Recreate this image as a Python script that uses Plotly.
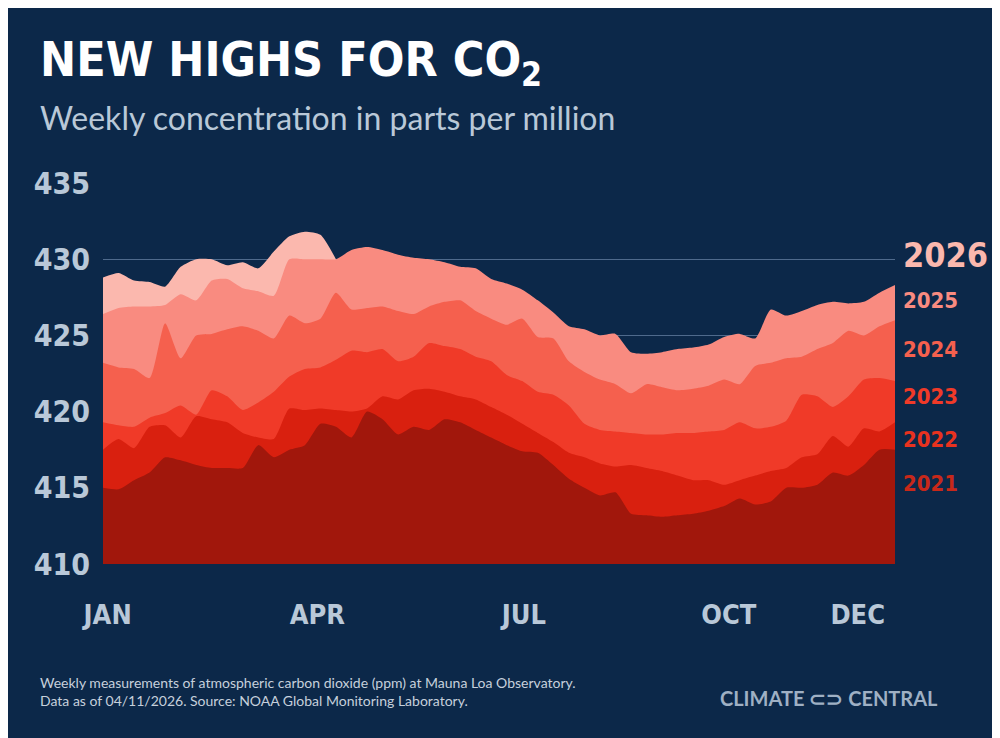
import plotly.graph_objects as go

weeks = list(range(1, 53))
y2021 = [415, 414.9, 415.5, 416, 417, 416.8, 416.5, 416.3, 416.3, 416.3, 417.8, 417, 417.5, 417.8, 419.2, 419, 418.3, 420,
         419.5, 418.5, 419, 418.8, 419.5, 419.3, 418.8, 418.3, 417.8, 417.4, 417.3, 416.5, 415.6, 415, 414.5, 414.7,
         413.3, 413.2, 413.1, 413.2, 413.3, 413.5, 413.8, 414.3, 413.9, 414.1, 415, 415, 415.2, 416, 415.8, 416.5, 417.5, 417.5]
y2022 = [417.5, 418.2, 417.6, 419, 419.1, 418.3, 419.7, 419.5, 419.3, 418.6, 418.3, 418.2, 420.2, 420.1, 420.2, 420.1,
         420, 420.2, 421, 420.8, 421.4, 421.5, 421.3, 421, 420.8, 420.3, 419.8, 419.2, 418.6, 418, 417.3, 417, 416.6, 416.4,
         416.5, 416.3, 416.1, 415.8, 415.5, 415.5, 415.2, 415.5, 415.8, 416.1, 416.3, 417, 417.2, 418.4, 417.7, 418.9, 418.7, 419.3]
y2023 = [419.3, 419.1, 419.0, 419.6, 419.9, 420.4, 419.8, 421.4, 421.0, 420.1, 420.6, 421.3, 422.3, 422.8, 422.9, 423.4,
         424.0, 423.9, 424.1, 423.3, 423.6, 424.5, 424.3, 424.1, 423.6, 423.3, 422.4, 422.0, 421.3, 421.1, 420.4, 419.2,
         418.8, 418.7, 418.6, 418.5, 418.5, 418.6, 418.6, 418.7, 418.8, 419.3, 418.9, 419.0, 419.4, 421.1, 421.0, 420.3,
         421.0, 422.1, 422.2, 422.0]
y2024 = [423.2, 422.9, 422.8, 422.2, 425.8, 423.5, 425.0, 425.1, 425.4, 425.6, 425.3, 424.8, 426.3, 425.8, 426.1, 427.8,
         426.7, 426.8, 426.9, 426.6, 426.4, 426.9, 427.2, 427.3, 426.6, 426.1, 425.7, 426.1, 424.9, 424.8, 423.3, 422.6,
         422.1, 421.8, 421.2, 421.8, 421.6, 421.4, 421.5, 421.7, 422.1, 421.8, 423.0, 423.2, 423.5, 423.6, 424.1, 424.5,
         425.3, 425.0, 425.6, 426.0]
y2025 = [426.4, 426.8, 426.9, 426.9, 427.0, 427.7, 427.3, 428.6, 428.7, 428.1, 427.9, 427.6, 430.0, 430.0, 430.0, 430.0,
         430.6, 430.8, 430.6, 430.3, 430.1, 430.0, 429.8, 429.5, 429.4, 428.7, 428.4, 428.0, 427.3, 426.5, 425.6, 425.4,
         425.0, 425.1, 423.9, 423.8, 423.9, 424.1, 424.2, 424.4, 424.9, 425.1, 424.8, 426.7, 426.3, 426.6, 427.0, 427.2,
         427.1, 427.2, 427.8, 428.3]
y2026 = [428.8, 429.1, 428.6, 428.5, 428.2, 429.5, 430.0, 430.0, 429.6, 429.8, 429.4, 430.5, 431.5, 431.8, 431.6, 430.0]

years = ["2026", "2025", "2024", "2023", "2022", "2021"]
series = [y2026, y2025, y2024, y2023, y2022, y2021]
colors = ["#fbb8ae", "#f98b80", "#f5604e", "#f03a28", "#d9200f", "#a1170c"]
label_colors = ["#fbb8ae", "#f98b80", "#f5604e", "#f03a28", "#e8321f", "#c8281a"]
label_y = [430.3, 427.3, 424.1, 421.0, 418.2, 415.3]

month_pos = [1.3, 14.8, 28.1, 41.3, 49.6]
month_lbl = ["JAN", "APR", "JUL", "OCT", "DEC"]

bg = "#0c2849"
fnt = "DejaVu Sans Condensed"
fig = go.Figure()
for yr, ys, c in zip(years, series, colors):
    fig.add_trace(go.Scatter(x=weeks[:len(ys)], y=ys, fill="tozeroy", mode="lines",
                             line=dict(width=0, shape="spline", smoothing=0.6, color=c),
                             fillcolor=c, name=yr, hoverinfo="skip"))

for i, (yr, ly, c) in enumerate(zip(years, label_y, label_colors)):
    fig.add_annotation(x=1.008, xref="paper", y=ly, yref="y", text="<b>%s</b>" % yr, showarrow=False,
                       xanchor="left", font=dict(family=fnt, size=34 if i == 0 else 22, color=c))

fig.update_layout(
    width=1000, height=738, paper_bgcolor=bg, plot_bgcolor=bg, showlegend=False,
    margin=dict(l=95, r=113, t=175, b=182),
    xaxis=dict(range=[1, 52], tickvals=month_pos, ticktext=["<b>%s</b>" % m for m in month_lbl],
               showgrid=False, zeroline=False, ticklabelstandoff=32,
               tickfont=dict(family=fnt, size=27, color="#b9c8d8")),
    yaxis=dict(range=[410, 435], tickvals=[410, 415, 420, 425, 430, 435],
               ticktext=["<b>%d</b>" % v for v in [410, 415, 420, 425, 430, 435]],
               gridcolor="#4f6a8c", gridwidth=1, zeroline=False, ticklabelstandoff=12,
               tickfont=dict(family=fnt, size=30, color="#b9c8d8")),
)

def px_x(p):
    return (p - 95) / 792

def px_y(p):
    return (556 - p) / 381

fig.add_annotation(x=px_x(30), xref="paper", y=px_y(55), yref="paper", xanchor="left", yanchor="middle",
                   showarrow=False, text="<b>NEW HIGHS FOR CO<sub>2</sub></b>",
                   font=dict(family=fnt, size=48, color="white"))
fig.add_annotation(x=px_x(30), xref="paper", y=px_y(110), yref="paper", xanchor="left", yanchor="middle",
                   showarrow=False, text="Weekly concentration in parts per million",
                   font=dict(family="Lato", size=32, color="#b9c8d8"))
fig.add_annotation(x=px_x(30), xref="paper", y=px_y(683), yref="paper", xanchor="left", yanchor="middle",
                   showarrow=False, align="left",
                   text="Weekly measurements of atmospheric carbon dioxide (ppm) at Mauna Loa Observatory.<br>"
                        "Data as of 04/11/2026. Source: NOAA Global Monitoring Laboratory.",
                   font=dict(family="Lato", size=14, color="#c6d0dc"))
fig.add_annotation(x=px_x(932), xref="paper", y=px_y(690), yref="paper", xanchor="right", yanchor="middle",
                   showarrow=False, text="<b>CLIMATE ⊂⊃ CENTRAL</b>",
                   font=dict(family="Lato", size=20, color="#9fb0c4"))
fig.write_html("out.html")
